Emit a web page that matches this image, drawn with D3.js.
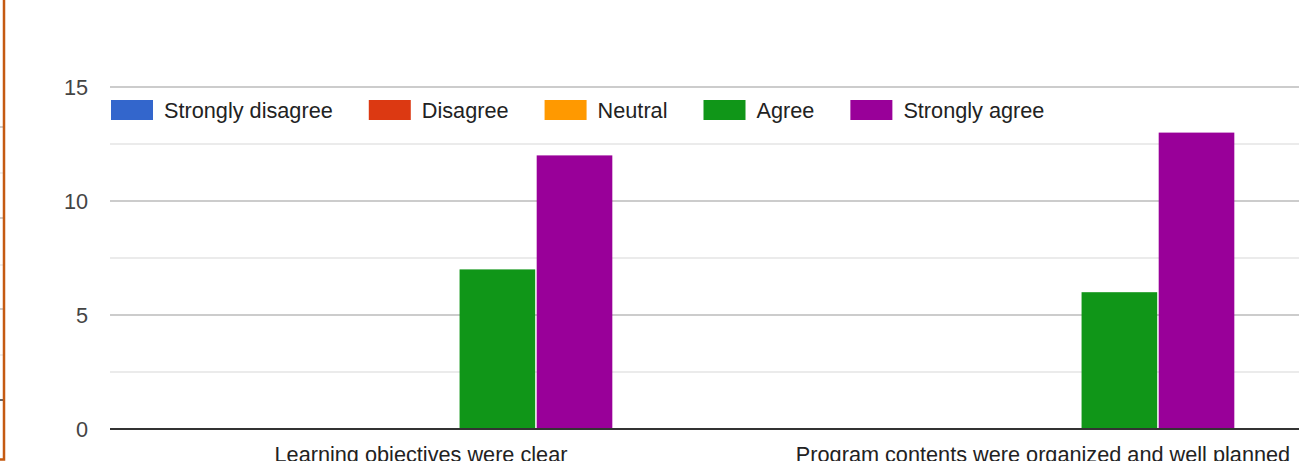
<!DOCTYPE html>
<meta charset="utf-8">
<script src="https://d3js.org/d3.v7.min.js"></script>
<style>
  body { margin: 0; background: #fff; overflow: hidden; }
  text { font-family: "Liberation Sans", Arial, sans-serif; }
</style>
<div id="chart"></div>
<script>

// data
var categories = ["Learning objectives were clear", "Program contents were organized and well planned"];
var seriesNames = ["Strongly disagree", "Disagree", "Neutral", "Agree", "Strongly agree"];
var stronglyDisagree = [0, 0];
var disagree = [0, 0];
var neutral = [0, 0];
var agree = [7, 6];
var stronglyAgree = [12, 13];
var yTicks = [0, 5, 10, 15];
var gridValues = [2.5, 5, 7.5, 10, 12.5, 15];
var colors = ["#3366cc", "#dc3912", "#ff9900", "#109618", "#990099"];

var seriesValues = [stronglyDisagree, disagree, neutral, agree, stronglyAgree];

var width = 1299, height = 461;
var fontSize = "21.7px";

var svg = d3.select("#chart").append("svg")
    .attr("width", width)
    .attr("height", height);

// scales
var x = d3.scaleBand().domain(categories).range([110, 1354]).paddingInner(0.38).paddingOuter(0.19);
var xs = d3.scaleBand().domain(seriesNames).range([0, x.bandwidth()]);
var y = d3.scaleLinear().domain([0, 15]).range([429, 87]);

// remnants of the neighbouring chart on the left
svg.append("g").selectAll("line")
  .data([127, 173, 218, 265, 309, 355])
  .enter().append("line")
    .attr("x1", 0).attr("x2", 3)
    .attr("y1", function(d) { return d; }).attr("y2", function(d) { return d; })
    .attr("stroke", function(d, i) { return i % 2 ? "#eee" : "#ccc"; })
    .attr("stroke-width", 2);
svg.append("line").attr("x1", 0).attr("x2", 3).attr("y1", 400).attr("y2", 400)
  .attr("stroke", "#666").attr("stroke-width", 2);
svg.append("path")
  .attr("d", "M4,0 L4,459.5 L0,459.5")
  .attr("fill", "none").attr("stroke", "#c55a11").attr("stroke-width", 2.5);

// gridlines
svg.append("g").selectAll("line")
  .data(gridValues)
  .enter().append("line")
    .attr("x1", 110).attr("x2", width)
    .attr("y1", function(d) { return y(d); }).attr("y2", function(d) { return y(d); })
    .attr("stroke", function(d) { return d % 5 === 0 ? "#cccccc" : "#ebebeb"; })
    .attr("stroke-width", 2);

// y tick labels
svg.append("g").selectAll("text")
  .data(yTicks)
  .enter().append("text")
    .attr("x", 88)
    .attr("y", function(d) { return y(d); })
    .attr("dy", "0.36em")
    .attr("text-anchor", "end")
    .attr("fill", "#444")
    .style("font-size", fontSize)
    .text(function(d) { return d; });

// bars
var groups = svg.append("g").selectAll("g")
  .data(categories)
  .enter().append("g")
    .attr("transform", function(d) { return "translate(" + x(d) + ",0)"; });

groups.selectAll("rect")
  .data(function(d, ci) {
    return seriesNames.map(function(s, si) { return {s: s, i: si, v: seriesValues[si][ci]}; });
  })
  .enter().append("rect")
    .attr("x", function(d) { return xs(d.s); })
    .attr("y", function(d) { return y(d.v); })
    .attr("width", xs.bandwidth() - 1.5)
    .attr("height", function(d) { return y(0) - y(d.v); })
    .attr("fill", function(d) { return colors[d.i]; });

// baseline
svg.append("line")
  .attr("x1", 110).attr("x2", width)
  .attr("y1", y(0)).attr("y2", y(0))
  .attr("stroke", "#333").attr("stroke-width", 2);

// x labels
svg.append("g").selectAll("text")
  .data(categories)
  .enter().append("text")
    .attr("x", function(d) { return x(d) + x.bandwidth() / 2; })
    .attr("y", 462)
    .attr("text-anchor", "middle")
    .attr("fill", "#222")
    .style("font-size", fontSize)
    .text(function(d) { return d; });

// legend
var legend = svg.append("g");
var lx = 111;
seriesNames.forEach(function(s, i) {
  legend.append("rect")
    .attr("x", lx).attr("y", 100)
    .attr("width", 42).attr("height", 20)
    .attr("fill", colors[i]);
  var t = legend.append("text")
    .attr("x", lx + 53).attr("y", 110)
    .attr("dy", "0.36em")
    .attr("fill", "#222")
    .style("font-size", fontSize)
    .text(s);
  lx = lx + 53 + t.node().getComputedTextLength() + 36;
});

</script>
